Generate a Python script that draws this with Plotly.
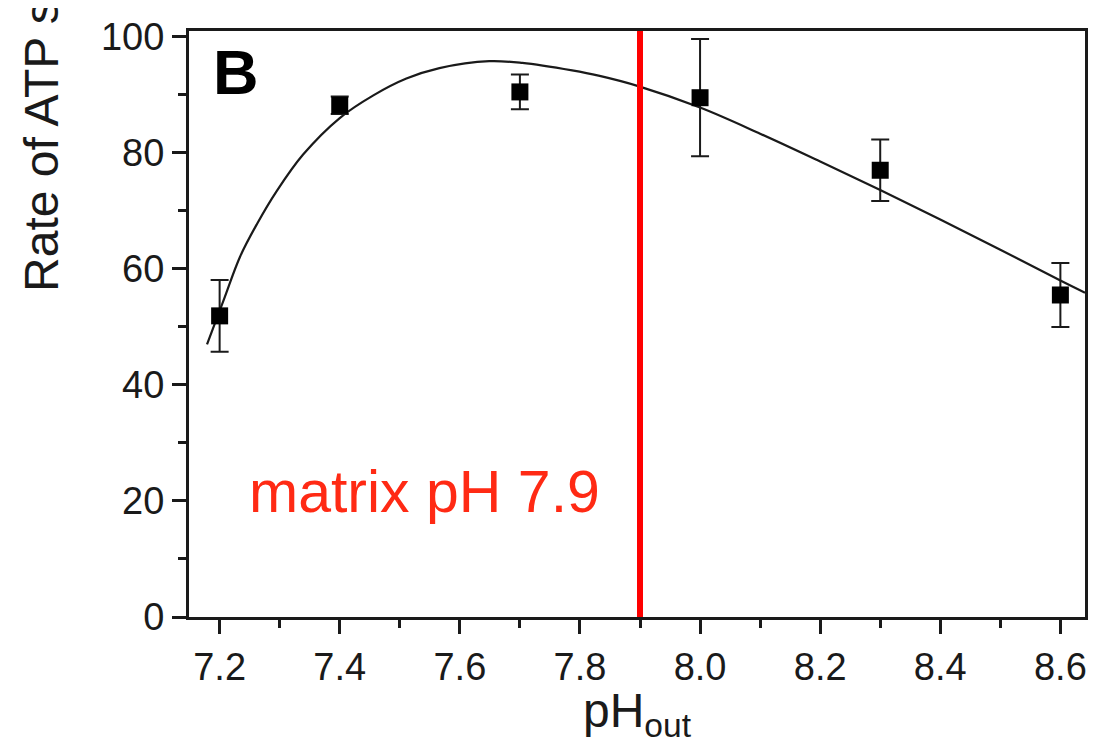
import plotly.graph_objects as go

# Measured data
ph_out = [7.2, 7.4, 7.7, 8.0, 8.3, 8.6]
rate = [51.9, 88.2, 90.5, 89.5, 77.0, 55.5]
rate_err = [6.2, 1.5, 3.0, 10.1, 5.3, 5.5]

# Fitted curve
curve_x = [7.179, 7.207, 7.234, 7.262, 7.295, 7.339, 7.400, 7.456, 7.511, 7.566,
           7.649, 7.704, 7.787, 7.831, 7.897, 8.0, 8.1, 8.2, 8.3, 8.4,
           8.5, 8.6, 8.641]
curve_y = [47.0, 54.7, 62.1, 67.7, 73.4, 79.7, 86.0, 89.9, 92.8, 94.6,
           95.8, 95.5, 94.2, 93.3, 91.5, 87.8, 83.3, 78.5, 73.6, 68.5,
           63.3, 58.0, 55.9]

matrix_ph = 7.9
x_ticks = [7.2, 7.4, 7.6, 7.8, 8.0, 8.2, 8.4, 8.6]
x_tick_labels = ["7.2", "7.4", "7.6", "7.8", "8.0", "8.2", "8.4", "8.6"]
y_ticks = [0, 20, 40, 60, 80, 100]

FONT = "Liberation Sans, Arial, sans-serif"
INK = "#1a1a1a"

fig = go.Figure()
fig.add_trace(go.Scatter(
    x=curve_x, y=curve_y, mode="lines", line=dict(color=INK, width=2.2, shape="spline"),
    showlegend=False, hoverinfo="skip"))
fig.add_trace(go.Scatter(
    x=ph_out, y=rate, mode="markers",
    marker=dict(symbol="square", size=17, color="black"),
    error_y=dict(type="data", array=rate_err, color=INK, thickness=2, width=9),
    showlegend=False))

fig.add_shape(type="line", x0=matrix_ph, x1=matrix_ph, y0=0, y1=1, xref="x", yref="paper",
              line=dict(color="#ff0000", width=6), layer="above")

fig.add_annotation(x=7.2456, y=21.6, xref="x", yref="y", text="matrix pH 7.9",
                   showarrow=False, xanchor="left", yanchor="middle",
                   font=dict(family=FONT, size=59, color="#ff2a14"))
fig.add_annotation(x=0.024, y=0.994, xref="paper", yref="paper", text="<b>B</b>",
                   showarrow=False, xanchor="left", yanchor="top",
                   font=dict(family=FONT, size=63, color="black"))
fig.add_annotation(x=-0.1647, y=0.552, xref="paper", yref="paper",
                   text="Rate of ATP synthesis (%)", textangle=-90,
                   showarrow=False, xanchor="center", yanchor="bottom",
                   font=dict(family=FONT, size=48, color=INK))

axis_common = dict(showline=True, linecolor=INK, linewidth=3, mirror=True,
                   ticks="outside", tickcolor=INK, tickwidth=3, ticklen=14,
                   showgrid=False, zeroline=False, ticklabeloverflow="allow",
                   tickfont=dict(family=FONT, size=38, color=INK))

fig.update_layout(
    width=1088, height=736,
    margin=dict(l=180.5, r=8, t=17, b=127),
    paper_bgcolor="white", plot_bgcolor="white",
    xaxis=dict(range=[7.149, 8.641], tickvals=x_ticks, ticktext=x_tick_labels,
               minor=dict(ticks="outside", dtick=0.1, tick0=7.2, ticklen=8, tickwidth=3, tickcolor=INK),
               title=dict(text="pH<sub>out</sub>", font=dict(family=FONT, size=48, color=INK), standoff=14),
               **axis_common),
    yaxis=dict(range=[0, 101], tickvals=y_ticks,
               minor=dict(ticks="outside", dtick=10, ticklen=8, tickwidth=3, tickcolor=INK),
               **axis_common),
)

fig.write_html("out.html")
